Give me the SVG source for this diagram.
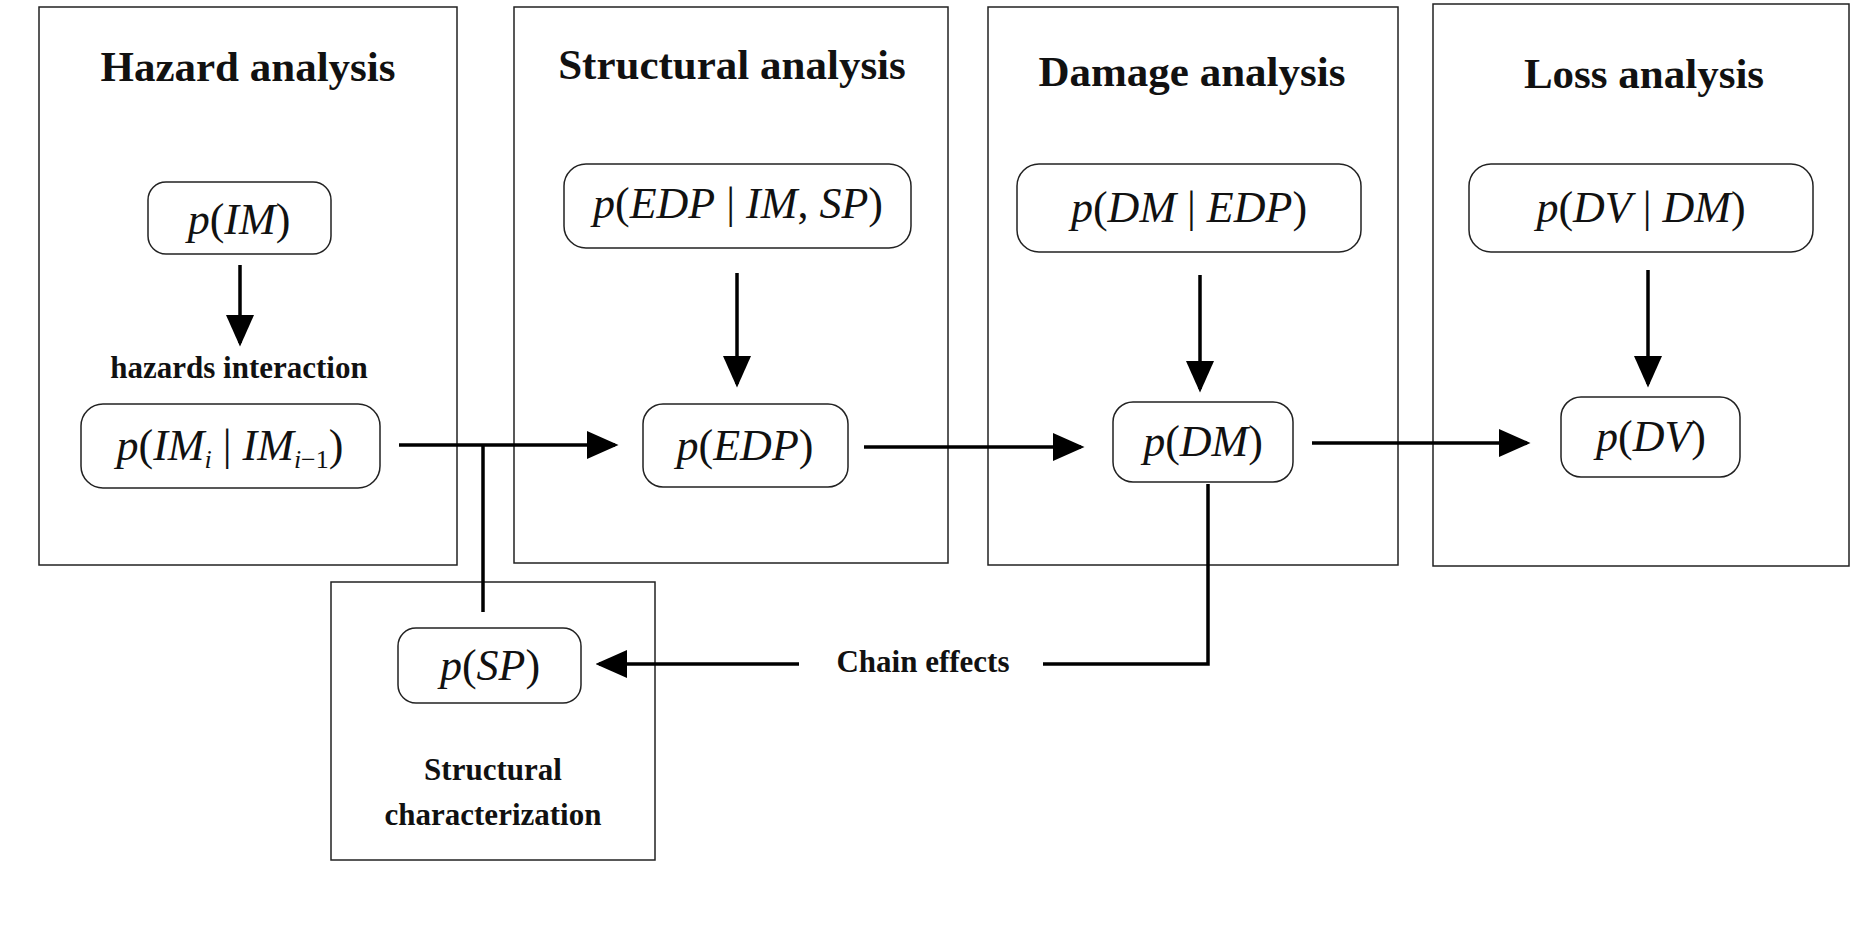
<svg xmlns="http://www.w3.org/2000/svg" width="1875" height="948" viewBox="0 0 1875 948">
<style>
.box{fill:none;stroke:#222;stroke-width:1.5}
.node{fill:#fff;stroke:#222;stroke-width:1.5}
.title{font-family:"Liberation Serif",serif;font-weight:bold;font-size:43px;text-anchor:middle;fill:#111}
.lbl{font-family:"Liberation Serif",serif;font-weight:bold;font-size:31px;text-anchor:middle;fill:#111}
.m{font-family:"Liberation Serif",serif;font-style:italic;font-size:44px;text-anchor:middle;fill:#111}
.up{font-style:normal}
.c{fill:none;stroke:#000;stroke-width:3.5}
</style>
<defs><marker id="a" markerWidth="9" markerHeight="8" refX="8" refY="4" orient="auto" markerUnits="strokeWidth"><path d="M0,0L9,4L0,8z" fill="#000"/></marker></defs>
<rect width="1875" height="948" fill="#fff"/>
<g id="hazard"><rect class="box" x="39" y="7" width="418" height="558"/><text class="title" x="248" y="81">Hazard analysis</text></g>
<g id="structural"><rect class="box" x="514" y="7" width="434" height="556"/><text class="title" x="732" y="79">Structural analysis</text></g>
<g id="damage"><rect class="box" x="988" y="7" width="410" height="558"/><text class="title" x="1192" y="86">Damage analysis</text></g>
<g id="loss"><rect class="box" x="1433" y="4" width="416" height="562"/><text class="title" x="1644" y="88">Loss analysis</text></g>
<g id="charact"><rect class="box" x="331" y="582" width="324" height="278"/><text class="lbl" x="493" y="780">Structural</text><text class="lbl" x="493" y="825">characterization</text></g>
<g id="pIM"><rect class="node" x="148" y="182" width="183" height="72" rx="18"/><text class="m" x="239" y="234">p<tspan class="up">(</tspan>IM<tspan class="up">)</tspan></text></g>
<g id="hazInt"><text class="lbl" x="239" y="378">hazards interaction</text></g>
<g id="pIMi"><rect class="node" x="81" y="404" width="299" height="84" rx="22"/><text class="m" x="230" y="460">p<tspan class="up">(</tspan>IM<tspan font-size="26" dy="8">i</tspan><tspan dy="-8" class="up"> | </tspan>IM<tspan font-size="26" dy="8">i<tspan class="up">−1</tspan></tspan><tspan dy="-8" class="up">)</tspan></text></g>
<g id="pEDPc"><rect class="node" x="564" y="164" width="347" height="84" rx="22"/><text class="m" x="738" y="218">p<tspan class="up">(</tspan>EDP<tspan class="up"> | </tspan>IM<tspan class="up">, </tspan>SP<tspan class="up">)</tspan></text></g>
<g id="pEDP"><rect class="node" x="643" y="404" width="205" height="83" rx="20"/><text class="m" x="745" y="460">p<tspan class="up">(</tspan>EDP<tspan class="up">)</tspan></text></g>
<g id="pDMc"><rect class="node" x="1017" y="164" width="344" height="88" rx="22"/><text class="m" x="1189" y="222">p<tspan class="up">(</tspan>DM<tspan class="up"> | </tspan>EDP<tspan class="up">)</tspan></text></g>
<g id="pDM"><rect class="node" x="1113" y="402" width="180" height="80" rx="20"/><text class="m" x="1203" y="456">p<tspan class="up">(</tspan>DM<tspan class="up">)</tspan></text></g>
<g id="pDVc"><rect class="node" x="1469" y="164" width="344" height="88" rx="22"/><text class="m" x="1641" y="222">p<tspan class="up">(</tspan>DV<tspan class="up"> | </tspan>DM<tspan class="up">)</tspan></text></g>
<g id="pDV"><rect class="node" x="1561" y="397" width="179" height="80" rx="20"/><text class="m" x="1651" y="451">p<tspan class="up">(</tspan>DV<tspan class="up">)</tspan></text></g>
<g id="pSP"><rect class="node" x="398" y="628" width="183" height="75" rx="18"/><text class="m" x="490" y="680">p<tspan class="up">(</tspan>SP<tspan class="up">)</tspan></text></g>
<g id="connectors">
<line class="c" x1="240" y1="265" x2="240" y2="343" marker-end="url(#a)"/>
<line class="c" x1="737" y1="273" x2="737" y2="384" marker-end="url(#a)"/>
<line class="c" x1="1200" y1="275" x2="1200" y2="389" marker-end="url(#a)"/>
<line class="c" x1="1648" y1="270" x2="1648" y2="384" marker-end="url(#a)"/>
<line class="c" x1="399" y1="445" x2="615" y2="445" marker-end="url(#a)"/>
<line class="c" x1="483" y1="445" x2="483" y2="612"/>
<line class="c" x1="864" y1="447" x2="1081" y2="447" marker-end="url(#a)"/>
<line class="c" x1="1312" y1="443" x2="1527" y2="443" marker-end="url(#a)"/>
<polyline class="c" points="1208,484 1208,664 1043,664"/>
<line class="c" x1="799" y1="664" x2="599" y2="664" marker-end="url(#a)"/>
<text class="lbl" x="923" y="672">Chain effects</text>
</g>
</svg>
